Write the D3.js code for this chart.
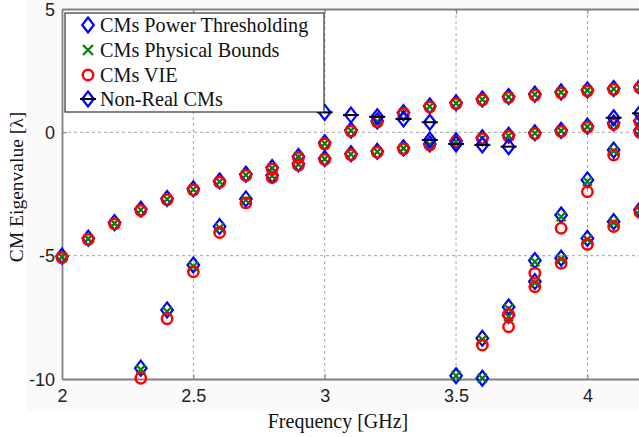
<!DOCTYPE html>
<html>
<head>
<meta charset="utf-8">
<script src="https://cdn.jsdelivr.net/npm/d3@7"></script>
<style>
  html, body { margin: 0; padding: 0; background: #ffffff; }
  svg { display: block; }
</style>
</head>
<body>
<svg id="chart" width="639" height="437"></svg>
<script>
// ---------------- DATA ----------------
const xTicks = [2, 2.5, 3, 3.5, 4];
const xTickLabels = ["2", "2.5", "3", "3.5", "4"];
const yTicks = [5, 0, -5, -10];
const yTickLabels = ["5", "0", "-5", "-10"];
const xGrid = [2.5, 3, 3.5, 4];
const yGrid = [0, -5];

const seriesNames = ["CMs Power Thresholding", "CMs Physical Bounds", "CMs VIE", "Non-Real CMs"];

// CMs Power Thresholding  [frequency GHz, eigenvalue]
const powerThresholding = [
  [2.0,-5.02],[2.1,-4.29],[2.2,-3.66],[2.3,-3.12],[2.4,-2.68],[2.5,-2.29],[2.6,-1.97],[2.7,-1.70],
  [2.8,-1.43],[2.9,-0.98],[3.0,-0.42],[3.1,0.09],[3.2,0.46],[3.3,0.80],[3.4,1.07],[3.5,1.20],
  [3.6,1.35],[3.7,1.45],[3.8,1.55],[3.9,1.64],[4.0,1.72],[4.1,1.78],[4.2,1.84],
  [2.3,-9.56],[2.4,-7.20],[2.5,-5.38],[2.6,-3.82],[2.7,-2.70],[2.8,-1.74],[2.9,-1.27],[3.0,-1.06],
  [3.1,-0.87],[3.2,-0.77],[3.3,-0.63],[3.4,-0.47],[3.5,-0.34],[3.6,-0.22],[3.7,-0.12],[3.8,-0.02],
  [3.9,0.08],[4.0,0.25],[4.1,0.38],[4.2,0.47],
  [3.5,-9.87],[3.6,-8.35],[3.7,-7.08],[3.8,-5.20],[3.9,-3.35],[4.0,-1.93],[4.1,-0.72],[4.2,0.08],
  [3.6,-9.97],[3.7,-7.42],[3.8,-6.05],[3.9,-5.10],[4.0,-4.30],[4.1,-3.62],[4.2,-3.14]
];

// CMs Physical Bounds
const physicalBounds = [
  [2.0,-5.05],[2.1,-4.32],[2.2,-3.69],[2.3,-3.15],[2.4,-2.71],[2.5,-2.32],[2.6,-2.00],[2.7,-1.73],
  [2.8,-1.46],[2.9,-1.00],[3.0,-0.45],[3.1,0.07],[3.2,0.44],[3.3,0.78],[3.4,1.05],[3.5,1.18],
  [3.6,1.33],[3.7,1.43],[3.8,1.53],[3.9,1.62],[4.0,1.70],[4.1,1.76],[4.2,1.82],
  [2.3,-9.62],[2.4,-7.26],[2.5,-5.43],[2.6,-3.87],[2.7,-2.74],[2.8,-1.77],[2.9,-1.30],[3.0,-1.08],
  [3.1,-0.89],[3.2,-0.79],[3.3,-0.65],[3.4,-0.49],[3.5,-0.36],[3.6,-0.24],[3.7,-0.14],[3.8,-0.04],
  [3.9,0.06],[4.0,0.23],[4.1,0.36],[4.2,0.45],
  [3.5,-9.87],[3.6,-8.40],[3.7,-7.15],[3.8,-5.25],[3.9,-3.42],[4.0,-1.99],[4.1,-0.76],[4.2,0.05],
  [3.6,-9.97],[3.7,-7.47],[3.8,-6.10],[3.9,-5.13],[4.0,-4.34],[4.1,-3.66],[4.2,-3.17]
];

// CMs VIE
const vie = [
  [2.0,-5.08],[2.1,-4.34],[2.2,-3.71],[2.3,-3.17],[2.4,-2.73],[2.5,-2.34],[2.6,-2.02],[2.7,-1.75],
  [2.8,-1.48],[2.9,-1.03],[3.0,-0.47],[3.1,0.05],[3.2,0.42],[3.3,0.76],[3.4,1.03],[3.5,1.16],
  [3.6,1.31],[3.7,1.41],[3.8,1.51],[3.9,1.60],[4.0,1.68],[4.1,1.74],[4.2,1.80],
  [2.3,-9.97],[2.4,-7.56],[2.5,-5.65],[2.6,-4.06],[2.7,-2.86],[2.8,-1.83],[2.9,-1.33],[3.0,-1.10],
  [3.1,-0.91],[3.2,-0.81],[3.3,-0.67],[3.4,-0.51],[3.5,-0.38],[3.6,-0.26],[3.7,-0.16],[3.8,-0.06],
  [3.9,0.04],[4.0,0.21],[4.1,0.33],[4.2,0.42],
  [3.6,-8.62],[3.7,-7.38],[3.8,-5.71],[3.9,-3.89],[4.0,-2.41],[4.1,-0.92],[4.2,0.00],
  [3.7,-7.88],[3.8,-6.26],[3.9,-5.31],[4.0,-4.54],[4.1,-3.82],[4.2,-3.24]
];

// Non-Real CMs (real part)
const nonReal = [
  [3.0,0.81],[3.1,0.70],[3.2,0.63],[3.3,0.54],[3.4,0.41],
  [3.4,-0.31],[3.5,-0.47],[3.6,-0.51],[3.7,-0.58],
  [4.1,0.59],[4.2,0.77]
];

// ---------------- DRAW ----------------
const svg = d3.select("#chart");
const W = 639, H = 437;
const padLeft = 62, padBottom = 379, padTop = 9;

const x = d3.scaleLinear().domain([2, 4.5]).range([padLeft, padLeft + 2.5 * 262.7]);
const y = d3.scaleLinear().domain([-10, 5]).range([padBottom, padTop]);

const BLUE = "#0000ff", GREEN = "#008000", RED = "#ff0000";
const serif = "'Liberation Serif', 'Times New Roman', serif";
const sans = "'Liberation Sans', Arial, sans-serif";

// faint figure panel
svg.append("rect").attr("x", 27).attr("y", 0).attr("width", W - 27).attr("height", 411)
  .attr("fill", "#fafafa");
svg.append("rect").attr("x", padLeft).attr("y", padTop).attr("width", W - padLeft).attr("height", padBottom - padTop)
  .attr("fill", "#ffffff");

// grid
const grid = svg.append("g").attr("stroke", "#9a9a9a").attr("stroke-width", 0.9)
  .attr("stroke-dasharray", "3,3").attr("fill", "none");
grid.selectAll("line.gx").data(xGrid).join("line").attr("class", "gx")
  .attr("x1", d => x(d)).attr("x2", d => x(d)).attr("y1", padTop).attr("y2", padBottom);
grid.selectAll("line.gy").data(yGrid).join("line").attr("class", "gy")
  .attr("x1", padLeft).attr("x2", W).attr("y1", d => y(d)).attr("y2", d => y(d));

// axes
const xAxis = d3.axisBottom(x).tickValues(xTicks)
  .tickFormat((d, i) => xTickLabels[i]).tickSize(-5).tickSizeOuter(0).tickPadding(10);
const gx = svg.append("g").attr("transform", `translate(0,${padBottom})`).call(xAxis);
const yAxis = d3.axisLeft(y).tickValues(yTicks)
  .tickFormat((d, i) => yTickLabels[i]).tickSize(-5).tickSizeOuter(0).tickPadding(7);
const gy = svg.append("g").attr("transform", `translate(${padLeft},0)`).call(yAxis);
[gx, gy].forEach(g => {
  g.select(".domain").attr("stroke", "#808080").attr("stroke-width", 1.8);
  g.selectAll(".tick line").attr("stroke", "#808080").attr("stroke-width", 1);
  g.selectAll(".tick text").attr("font-family", sans).attr("font-size", 18).attr("fill", "#222");
});
gx.selectAll(".tick text").attr("dy", "0.71em");
gy.selectAll(".tick text").attr("dy", "0.35em");
// top border with ticks
const topAxis = d3.axisTop(x).tickValues(xTicks).tickFormat("").tickSize(-5).tickSizeOuter(0);
const gt = svg.append("g").attr("transform", `translate(0,${padTop})`).call(topAxis);
gt.select(".domain").attr("stroke", "#808080").attr("stroke-width", 1.8);
gt.selectAll(".tick line").attr("stroke", "#808080");

// markers
const diamond = "M0,-7.5L5.8,0L0,7.5L-5.8,0Z";
function drawDiamonds(data, color) {
  svg.append("g").selectAll("path").data(data).join("path")
    .attr("d", diamond).attr("transform", d => `translate(${x(d[0])},${y(d[1])})`)
    .attr("fill", "none").attr("stroke", color).attr("stroke-width", 2.2);
}
function drawCrosses(data) {
  svg.append("g").selectAll("path").data(data).join("path")
    .attr("d", "M-4.5,-4.5L4.5,4.5M-4.5,4.5L4.5,-4.5")
    .attr("transform", d => `translate(${x(d[0])},${y(d[1])})`)
    .attr("stroke", GREEN).attr("stroke-width", 2.2).attr("fill", "none");
}
function drawCircles(data) {
  svg.append("g").selectAll("circle").data(data).join("circle")
    .attr("cx", d => x(d[0])).attr("cy", d => y(d[1])).attr("r", 5.2)
    .attr("fill", "none").attr("stroke", RED).attr("stroke-width", 2.5);
}
function drawNonReal(data) {
  const g = svg.append("g").selectAll("g").data(data).join("g")
    .attr("transform", d => `translate(${x(d[0])},${y(d[1])})`);
  g.append("path").attr("d", diamond).attr("fill", "none").attr("stroke", BLUE).attr("stroke-width", 2.2);
  g.append("line").attr("x1", -8).attr("x2", 8).attr("stroke", "#000").attr("stroke-width", 2);
}
drawDiamonds(powerThresholding, BLUE);
drawCrosses(physicalBounds);
drawCircles(vie);
drawNonReal(nonReal);

// legend
const lg = svg.append("g");
lg.append("rect").attr("x", 65).attr("y", 13).attr("width", 259).attr("height", 99)
  .attr("fill", "#ffffff").attr("stroke", "#333").attr("stroke-width", 1.2);
const rowsY = [25, 50, 75, 99];
const mx = 88;
lg.append("path").attr("d", diamond).attr("transform", `translate(${mx},${rowsY[0]})`)
  .attr("fill", "none").attr("stroke", BLUE).attr("stroke-width", 2.2);
lg.append("path").attr("d", "M-5,-5L5,5M-5,5L5,-5").attr("transform", `translate(${mx},${rowsY[1]})`)
  .attr("stroke", GREEN).attr("stroke-width", 2.2).attr("fill", "none");
lg.append("circle").attr("cx", mx).attr("cy", rowsY[2]).attr("r", 5.2)
  .attr("fill", "none").attr("stroke", RED).attr("stroke-width", 2.5);
lg.append("path").attr("d", diamond).attr("transform", `translate(${mx},${rowsY[3]})`)
  .attr("fill", "none").attr("stroke", BLUE).attr("stroke-width", 2.2);
lg.append("line").attr("x1", mx - 8).attr("x2", mx + 8).attr("y1", rowsY[3]).attr("y2", rowsY[3])
  .attr("stroke", "#000").attr("stroke-width", 2);
lg.selectAll("text").data(seriesNames).join("text")
  .attr("x", 100).attr("y", (d, i) => rowsY[i]).attr("dy", "0.33em")
  .attr("font-family", serif).attr("font-size", 20.2).attr("fill", "#111")
  .text(d => d);

// axis labels
svg.append("text").attr("x", 338).attr("y", 428).attr("text-anchor", "middle")
  .attr("font-family", serif).attr("font-size", 20).attr("fill", "#111")
  .text("Frequency [GHz]");
svg.append("text").attr("transform", "translate(23,187) rotate(-90)").attr("text-anchor", "middle")
  .attr("font-family", serif).attr("font-size", 19.5).attr("fill", "#111")
  .text("CM Eigenvalue [λ]");
</script>
</body>
</html>
